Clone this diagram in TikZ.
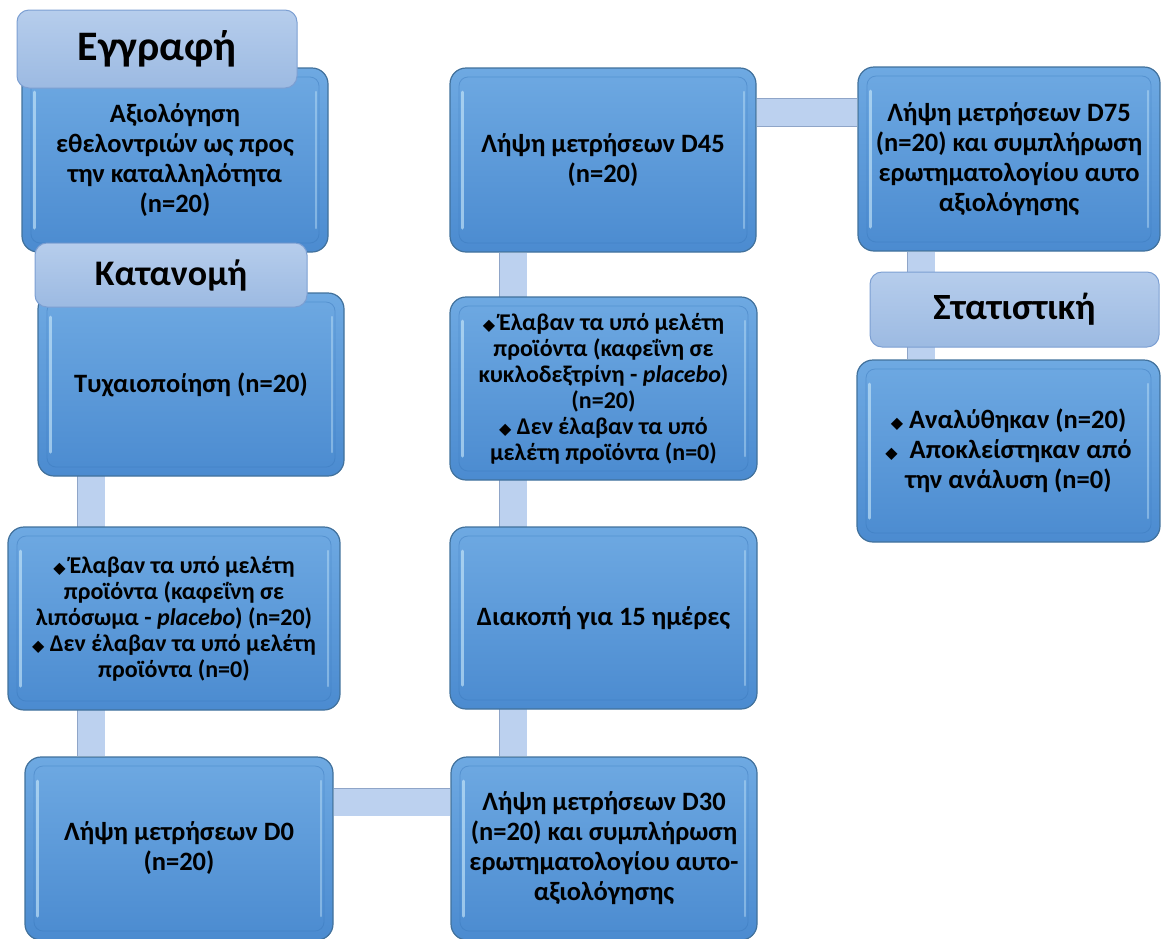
\documentclass[tikz,border=0pt]{standalone}
\usepackage{fontspec}
\setmainfont{Carlito}
\newfontfamily\symfont{DejaVu Sans}
\usetikzlibrary{backgrounds}
\definecolor{boxtop}{HTML}{6EA9E2}
\definecolor{boxbot}{HTML}{4B8BD0}
\definecolor{boxedge}{HTML}{41719C}
\definecolor{bevel}{HTML}{3A78BC}
\definecolor{shine}{HTML}{CDEBFB}
\definecolor{headtop}{HTML}{B6CDEC}
\definecolor{headbot}{HTML}{9CBAE2}
\definecolor{headedge}{HTML}{7C9FD2}
\definecolor{barfill}{HTML}{BCD1EF}
\definecolor{baredge}{HTML}{8FA5C8}
\newcommand\bul{{\symfont\fontsize{16}{16}\selectfont ◆}}
\tikzset{
 stage/.style={rounded corners=16pt, draw=boxedge, line width=1.2pt,
  top color=boxtop, bottom color=boxbot, align=center, inner sep=0pt,
  font=\bfseries\fontsize{26.5}{30}\selectfont,
  path picture={
   \draw[bevel, line width=.8pt, opacity=.45, rounded corners=9pt]
    ([shift={(9pt,-9pt)}]path picture bounding box.north west) rectangle
    ([shift={(-9pt,9pt)}]path picture bounding box.south east);
   \draw[shine, line width=3pt, line cap=round, opacity=.6]
    ([shift={(12pt,-24pt)}]path picture bounding box.north west) --
    ([shift={(12pt,24pt)}]path picture bounding box.south west);
   \draw[shine, line width=2.5pt, line cap=round, opacity=.4]
    ([shift={(-12pt,-24pt)}]path picture bounding box.north east) --
    ([shift={(-12pt,24pt)}]path picture bounding box.south east);}},
 small/.style={font=\bfseries\fontsize{24}{26}\selectfont},
 head/.style={rounded corners=12pt, draw=headedge, line width=1pt,
  top color=headtop, bottom color=headbot, inner sep=0pt},
 bar/.style={draw=baredge, line width=.8pt, double=barfill, double distance=27pt}
}
\begin{document}
\begin{tikzpicture}[x=1pt, y=-1pt]
\clip (0,0) rectangle (1161,938);
% left column
\node[stage, minimum width=306pt, minimum height=184pt] (eval) at (175,160)
 {Αξιολόγηση\\εθελοντριών ως προς\\την καταλληλότητα\\(n=20)};
\node[stage, minimum width=306pt, minimum height=183pt] (rand) at (191,384.5)
 {Τυχαιοποίηση (n=20)};
\node[stage, small, minimum width=332pt, minimum height=183pt] (lipo) at (174,618.5)
 {\bul\,Έλαβαν τα υπό μελέτη\\προϊόντα (καφεΐνη σε\\λιπόσωμα - \textit{placebo}) (n=20)\\\bul\ Δεν έλαβαν τα υπό μελέτη\\προϊόντα (n=0)};
\node[stage, minimum width=308pt, minimum height=183pt] (dzero) at (179,848.5)
 {Λήψη μετρήσεων D0\\(n=20)};
% middle column
\node[stage, minimum width=306pt, minimum height=183pt] (dthirty) at (604,848.5)
 {Λήψη μετρήσεων D30\\(n=20) και συμπλήρωση\\ερωτηματολογίου αυτο-\\αξιολόγησης};
\node[stage, minimum width=307pt, minimum height=182pt] (pause) at (603.5,618)
 {Διακοπή για 15 ημέρες};
\node[stage, small, minimum width=307pt, minimum height=183pt] (cyclo) at (603.5,388.5)
 {\bul\,Έλαβαν τα υπό μελέτη\\προϊόντα (καφεΐνη σε\\κυκλοδεξτρίνη - \textit{placebo})\\(n=20)\\\bul\ Δεν έλαβαν τα υπό\\μελέτη προϊόντα (n=0)};
\node[stage, minimum width=306pt, minimum height=184pt] (dfortyfive) at (603,160)
 {Λήψη μετρήσεων D45\\(n=20)};
% right column
\node[stage, minimum width=302pt, minimum height=184pt] (dseventyfive) at (1009,159)
 {Λήψη μετρήσεων D75\\(n=20) και συμπλήρωση\\ερωτηματολογίου αυτο\\αξιολόγησης};
\node[stage, minimum width=303pt, minimum height=182pt] (stats) at (1008.5,451)
 {\bul\ Αναλύθηκαν (n=20)\\\bul\ \ Αποκλείστηκαν από\\την ανάλυση (n=0)};
% headers
\node[head, minimum width=280pt, minimum height=78pt, font=\bfseries\fontsize{42}{42}\selectfont] (enrol) at (157,49) {Εγγραφή};
\node[head, minimum width=272pt, minimum height=64pt, font=\bfseries\fontsize{36}{36}\selectfont] (alloc) at (171,275) {Κατανομή};
\node[head, minimum width=289pt, minimum height=75pt, font=\bfseries\fontsize{37}{37}\selectfont] (analys) at (1014.5,309.5) {Στατιστική};
% connectors
\coordinate (colL) at (91,0);
\coordinate (colM) at (513,0);
\coordinate (colR) at (921,0);
\coordinate (rowD) at (0,802);
\coordinate (rowH) at (0,112.5);
\begin{scope}[on background layer]
\draw[bar] (eval.south -| colL) -- (dzero.north -| colL);
\draw[bar] (dzero.east |- rowD) -- (dthirty.west |- rowD);
\draw[bar] (dthirty.north -| colM) -- (dfortyfive.south -| colM);
\draw[bar] (dfortyfive.east |- rowH) -- (dseventyfive.west |- rowH);
\draw[bar] (dseventyfive.south -| colR) -- (stats.north -| colR);
\end{scope}
\end{tikzpicture}
\end{document}
